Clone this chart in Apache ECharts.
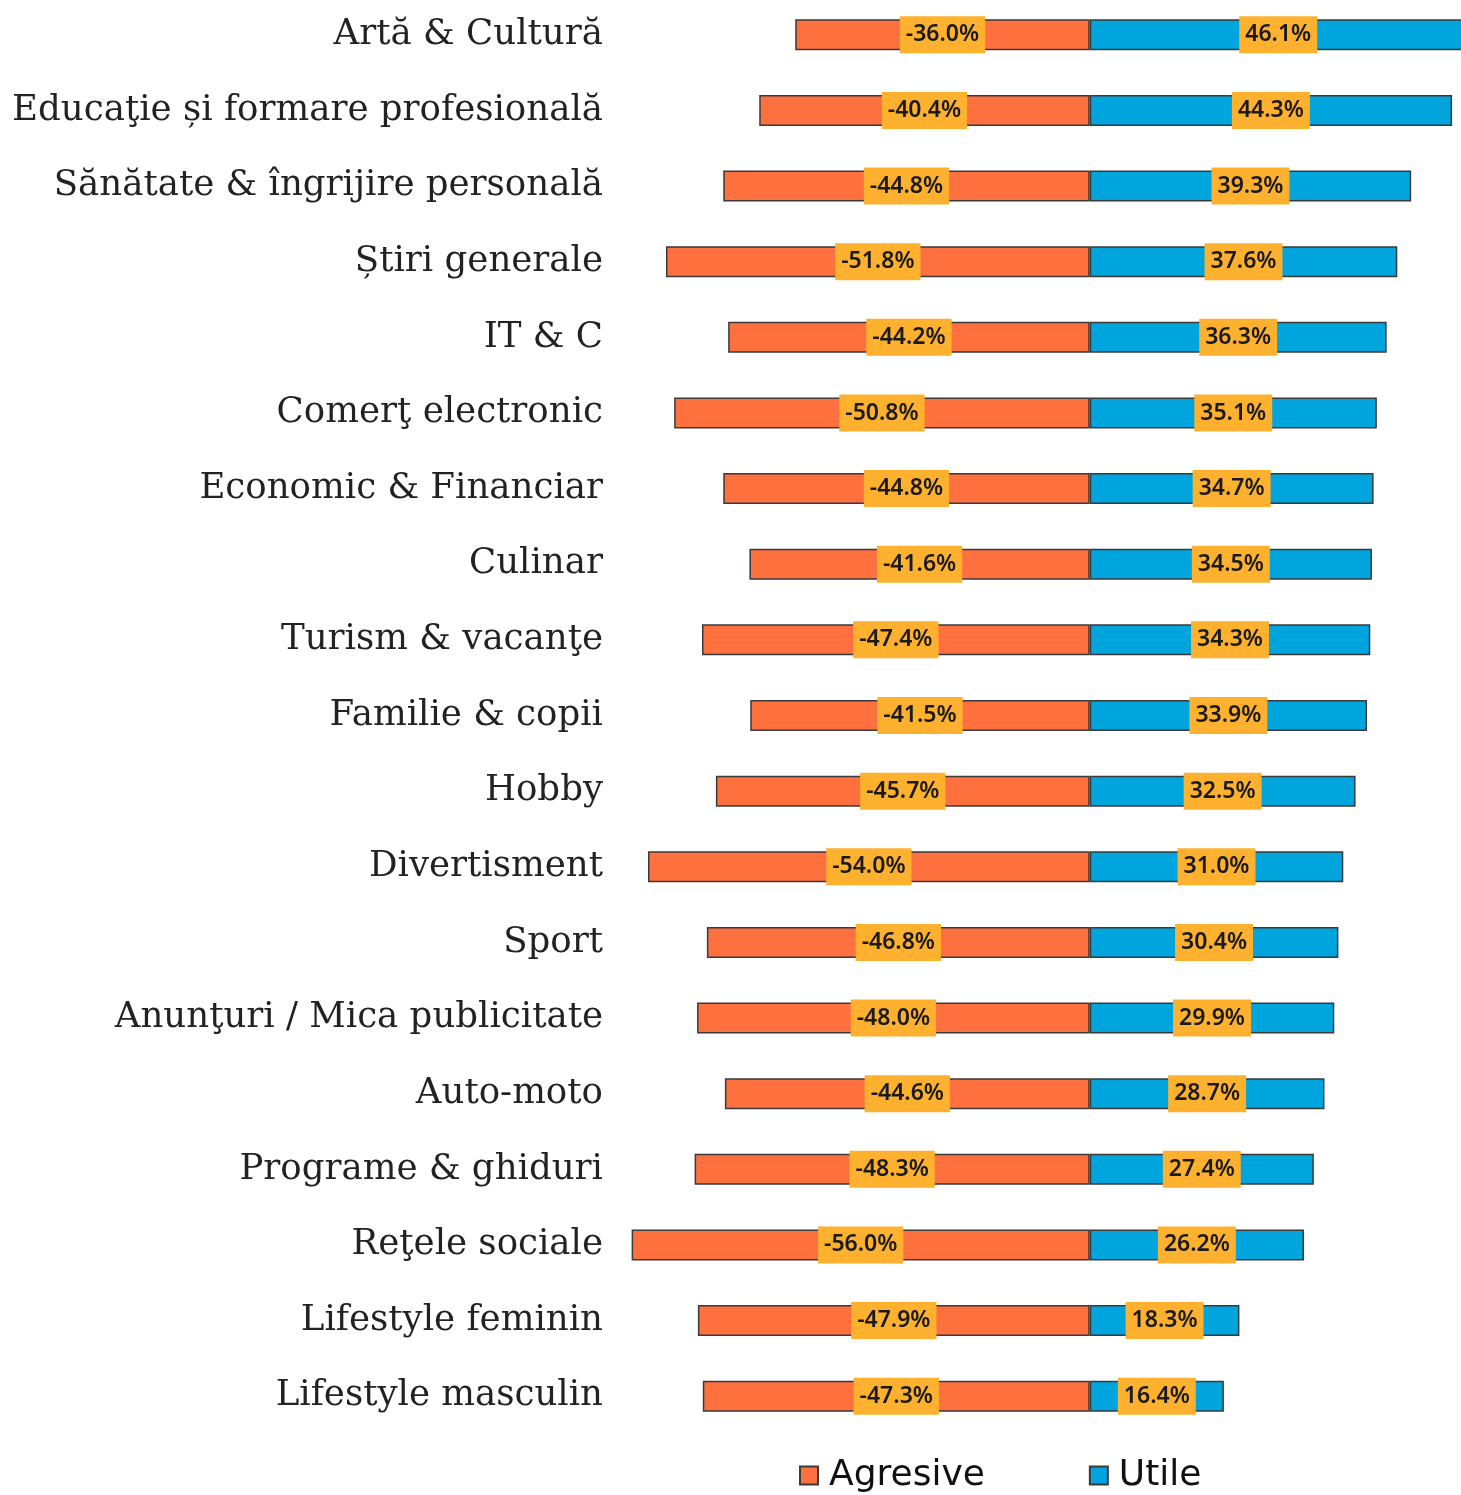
<!DOCTYPE html>
<html>
<head>
<meta charset="utf-8">
<script src="https://cdn.jsdelivr.net/npm/echarts@6/dist/echarts.min.js"></script>
<style>
  html, body { margin: 0; padding: 0; background: #ffffff; }
  #chart { width: 1461px; height: 1495px; }
</style>
</head>
<body>
<div id="chart"></div>
<script>
// Site categories, top to bottom
const categories = [
  'Artă & Cultură',
  'Educaţie și formare profesională',
  'Sănătate & îngrijire personală',
  'Știri generale',
  'IT & C',
  'Comerţ electronic',
  'Economic & Financiar',
  'Culinar',
  'Turism & vacanţe',
  'Familie & copii',
  'Hobby',
  'Divertisment',
  'Sport',
  'Anunţuri / Mica publicitate',
  'Auto-moto',
  'Programe & ghiduri',
  'Reţele sociale',
  'Lifestyle feminin',
  'Lifestyle masculin'
];

// Share of ads perceived as aggressive (drawn to the left of zero)
const agresive = [-36.0, -40.4, -44.8, -51.8, -44.2, -50.8, -44.8, -41.6, -47.4, -41.5,
                  -45.7, -54.0, -46.8, -48.0, -44.6, -48.3, -56.0, -47.9, -47.3];

// Share of ads perceived as useful (drawn to the right of zero)
const utile = [46.1, 44.3, 39.3, 37.6, 36.3, 35.1, 34.7, 34.5, 34.3, 33.9,
               32.5, 31.0, 30.4, 29.9, 28.7, 27.4, 26.2, 18.3, 16.4];

const seriesNames = ['Agresive', 'Utile'];

const chart = echarts.init(document.getElementById('chart'));

const valueLabel = {
  show: true,
  position: 'inside',
  formatter: p => p.value.toFixed(1) + '%',
  color: '#1a1a1a',
  fontFamily: 'Noto Sans',
  fontWeight: 600,
  fontSize: 23,
  backgroundColor: '#FDB12F',
  padding: [6, 6, 6, 6],
  lineHeight: 25
};

chart.setOption({
  animation: false,
  backgroundColor: '#ffffff',
  grid: {
    left: 603,
    width: 863,
    top: -3,
    height: 1437,
    outerBoundsMode: 'none'
  },
  xAxis: {
    type: 'value',
    min: -59.5,
    max: 46,
    show: false
  },
  yAxis: {
    type: 'category',
    data: categories,
    inverse: true,
    axisLine: { show: false },
    axisTick: { show: false },
    splitLine: { show: false },
    axisLabel: {
      margin: 0,
      color: '#222222',
      fontFamily: 'DejaVu Serif',
      fontSize: 35.6
    }
  },
  legend: {
    data: seriesNames,
    left: 794,
    top: 1449,
    icon: 'rect',
    itemWidth: 18,
    itemHeight: 18,
    itemGap: 104,
    textStyle: {
      fontFamily: 'DejaVu Sans',
      fontSize: 36,
      color: '#111111',
      lineHeight: 36,
      padding: [7, 0, 0, 6]
    }
  },
  series: [
    {
      name: seriesNames[0],
      type: 'bar',
      stack: 'total',
      data: agresive,
      barWidth: 31,
      itemStyle: { color: '#FE713F', borderColor: '#3a3a3a', borderWidth: 1.5 },
      label: valueLabel
    },
    {
      name: seriesNames[1],
      type: 'bar',
      stack: 'total',
      data: utile,
      barWidth: 31,
      itemStyle: { color: '#00A5DE', borderColor: '#3a3a3a', borderWidth: 1.5 },
      label: valueLabel
    }
  ]
});
</script>
</body>
</html>
